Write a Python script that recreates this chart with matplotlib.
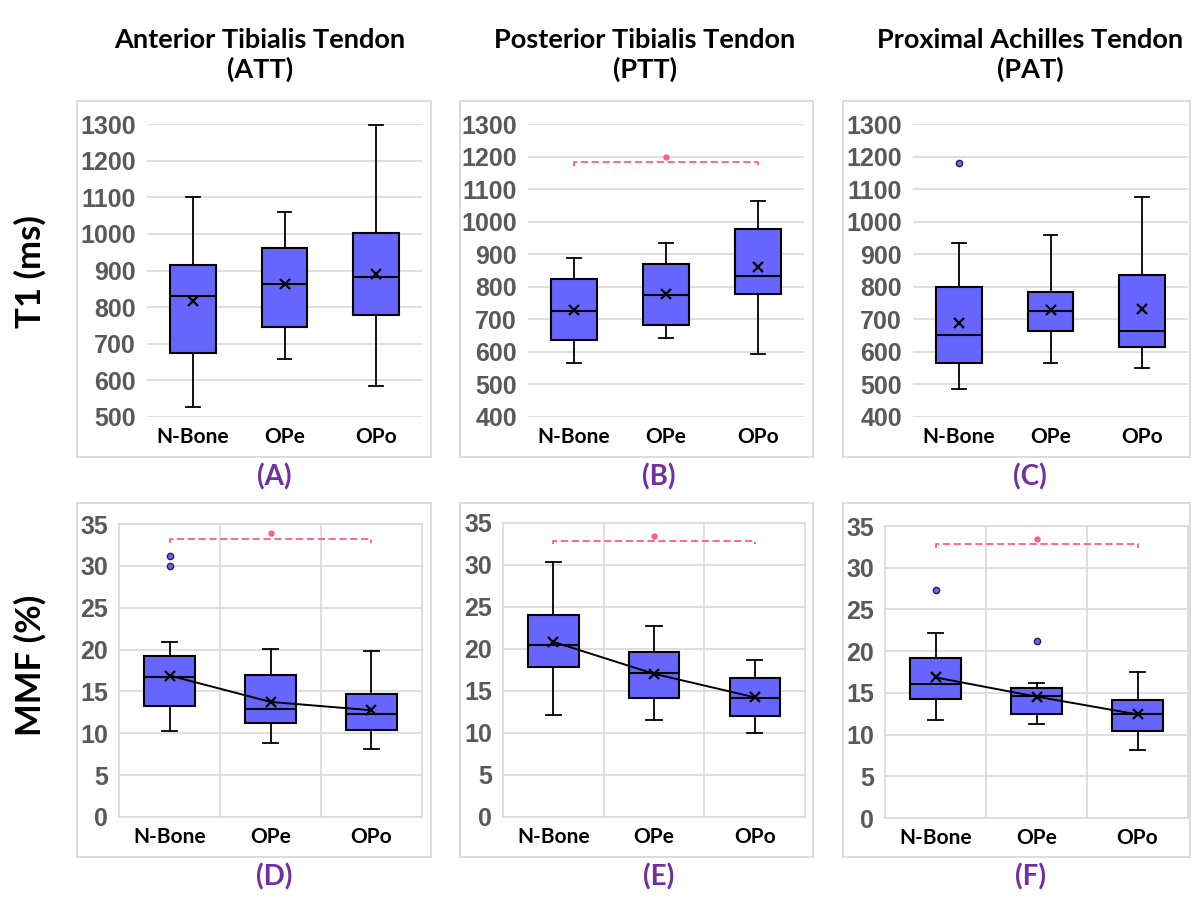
import matplotlib
matplotlib.use("Agg")
import matplotlib.pyplot as plt
from matplotlib.patches import Rectangle

W, H = 1195, 899

groups = ["N-Bone", "OPe", "OPo"]
col_titles = ["Anterior Tibialis Tendon\n(ATT)", "Posterior Tibialis Tendon\n(PTT)",
              "Proximal Achilles Tendon\n(PAT)"]
row_labels = ["T1 (ms)", "MMF (%)"]
panel_tags = ["(A)", "(B)", "(C)", "(D)", "(E)", "(F)"]

# box stats per panel: [whislo, q1, median, q3, whishi, mean] for N-Bone, OPe, OPo
att_t1 = [[527, 676, 831, 914, 1100, 816], [659, 746, 864, 961, 1059, 864], [586, 778, 882, 1003, 1297, 890]]
ptt_t1 = [[566, 635, 727, 823, 889, 730], [644, 683, 775, 870, 934, 777], [594, 777, 834, 979, 1062, 861]]
pat_t1 = [[486, 567, 651, 798, 935, 688], [566, 664, 725, 783, 959, 728], [551, 614, 664, 836, 1076, 731]]
att_mmf = [[10.3, 13.25, 16.75, 19.25, 20.95, 16.9], [8.8, 11.2, 12.9, 16.95, 20.05, 13.75], [8.1, 10.45, 12.35, 14.7, 19.8, 12.75]]
ptt_mmf = [[12.1, 17.85, 20.5, 24.0, 30.4, 20.85], [11.6, 14.2, 17.15, 19.65, 22.7, 17.05], [10.0, 12.0, 14.15, 16.6, 18.7, 14.25]]
pat_mmf = [[11.75, 14.25, 16.1, 19.15, 22.15, 16.85], [11.3, 12.45, 14.6, 15.55, 16.15, 14.55], [8.1, 10.45, 12.5, 14.2, 17.45, 12.42]]

att_t1_out = [[], [], []]
ptt_t1_out = [[], [], []]
pat_t1_out = [[1181], [], []]
att_mmf_out = [[31.2, 30.0], [], []]
ptt_mmf_out = [[], [], []]
pat_mmf_out = [[27.3], [21.2], []]

# significance bracket: (y of bar, y of star) or None
att_t1_sig = None
ptt_t1_sig = (1183, 1200)
pat_t1_sig = None
att_mmf_sig = (33.2, 33.9)
ptt_mmf_sig = (32.9, 33.5)
pat_mmf_sig = (32.8, 33.5)

t1_ylim = [(500, 1300), (400, 1300), (400, 1300)]
mmf_ylim = (0, 35)

panels = [
    (att_t1, att_t1_out, att_t1_sig, t1_ylim[0], 100),
    (ptt_t1, ptt_t1_out, ptt_t1_sig, t1_ylim[1], 100),
    (pat_t1, pat_t1_out, pat_t1_sig, t1_ylim[2], 100),
    (att_mmf, att_mmf_out, att_mmf_sig, mmf_ylim, 5),
    (ptt_mmf, ptt_mmf_out, ptt_mmf_sig, mmf_ylim, 5),
    (pat_mmf, pat_mmf_out, pat_mmf_sig, mmf_ylim, 5),
]

# plot areas and frames in pixels (x0, x1, y0, y1)
plot_px = [(147, 422, 124, 417), (528, 804, 124, 417), (913, 1188, 124, 417),
           (119, 422, 524, 817), (503, 805, 523, 817), (885, 1188, 526, 818)]
frame_px = [(77, 431, 101, 457), (460, 813, 101, 457), (843, 1190, 101, 457),
            (77, 431, 503, 857), (460, 813, 503, 857), (843, 1190, 503, 857)]
tag_x = [274, 659, 1030]

box_color = "#6666ff"
grid_color = "#d9d9d9"
pink = "#ff5c8a"

fig = plt.figure(figsize=(W / 100, H / 100), dpi=100)


def rect(x0, x1, y0, y1):
    return [x0 / W, 1 - y1 / H, (x1 - x0) / W, (y1 - y0) / H]


for i, (stats, outs, sig, ylim, step) in enumerate(panels):
    fx0, fx1, fy0, fy1 = frame_px[i]
    fig.patches.append(Rectangle((fx0 / W, 1 - fy1 / H), (fx1 - fx0) / W, (fy1 - fy0) / H,
                                 transform=fig.transFigure, fill=False,
                                 edgecolor=grid_color, lw=1.3))
    ax = fig.add_axes(rect(*plot_px[i]))
    pos = list(range(len(groups)))
    bstats = []
    for s, o in zip(stats, outs):
        bstats.append(dict(whislo=s[0], q1=s[1], med=s[2], q3=s[3], whishi=s[4],
                           mean=s[5], fliers=o))
    ax.bxp(bstats, positions=pos, widths=0.5, capwidths=0.15, showmeans=True,
           patch_artist=True,
           boxprops=dict(facecolor=box_color, edgecolor="black", lw=1.5),
           medianprops=dict(color="black", lw=1.5),
           whiskerprops=dict(color="black", lw=1.3),
           capprops=dict(color="black", lw=1.3),
           meanprops=dict(marker="x", markeredgecolor="black", markersize=7, mew=1.6),
           flierprops=dict(marker="o", markerfacecolor=box_color, markeredgecolor="#222244",
                           markersize=4.5, mew=1))
    if i >= 3:
        ax.plot(pos, [s[5] for s in stats], color="black", lw=1.4, zorder=3)
        for b in range(len(groups) - 1):
            ax.axvline(b + 0.5, color=grid_color, lw=1.2, zorder=0)
        for sp in ax.spines.values():
            sp.set_color(grid_color)
            sp.set_linewidth(1.2)
    else:
        for sp in ax.spines.values():
            sp.set_visible(False)
    if sig is not None:
        by, sy = sig
        drop = (ylim[1] - ylim[0]) * 0.012
        ax.plot([0, 0, 2, 2], [by - drop, by, by, by - drop], color=pink, lw=1.3,
                ls=(0, (4, 2)), zorder=4)
        ax.plot([1], [sy], marker="o", color=pink, markersize=3.5, zorder=4)
    ax.set_xlim(-0.5, 2.5)
    ax.set_ylim(*ylim)
    ax.set_yticks(range(ylim[0], ylim[1] + 1, step))
    ax.yaxis.grid(True, color=grid_color, lw=1.2)
    ax.set_axisbelow(True)
    ax.set_xticks(pos)
    ax.set_xticklabels(groups, fontfamily="Lato", fontweight="bold", fontsize=15)
    for t in ax.get_yticklabels():
        t.set_fontfamily("Liberation Sans")
        t.set_fontweight("bold")
        t.set_fontsize(18)
        t.set_color("#595959")
    ax.tick_params(axis="both", length=0)
    ax.tick_params(axis="x", pad=7)
    ax.tick_params(axis="y", pad=8)

    row = i // 3
    col = i % 3
    ty = 477 if row == 0 else 877
    fig.text(tag_x[col] / W, 1 - ty / H, panel_tags[i], ha="center", va="center",
             fontfamily="Lato", fontweight="bold", fontsize=20, color="#7030a0")

title_x = [260, 645, 1030]
for c, t in enumerate(col_titles):
    fig.text(title_x[c] / W, 1 - 55 / H, t, ha="center", va="center", fontfamily="Lato",
             fontweight="bold", fontsize=19.5, linespacing=1.2)

for r, (lab, yc) in enumerate(zip(row_labels, [272, 665])):
    fig.text(30 / W, 1 - yc / H, lab, ha="center", va="center", rotation=90,
             fontfamily="Lato", fontweight="bold", fontsize=25)

fig.savefig("out.png", dpi=100)
